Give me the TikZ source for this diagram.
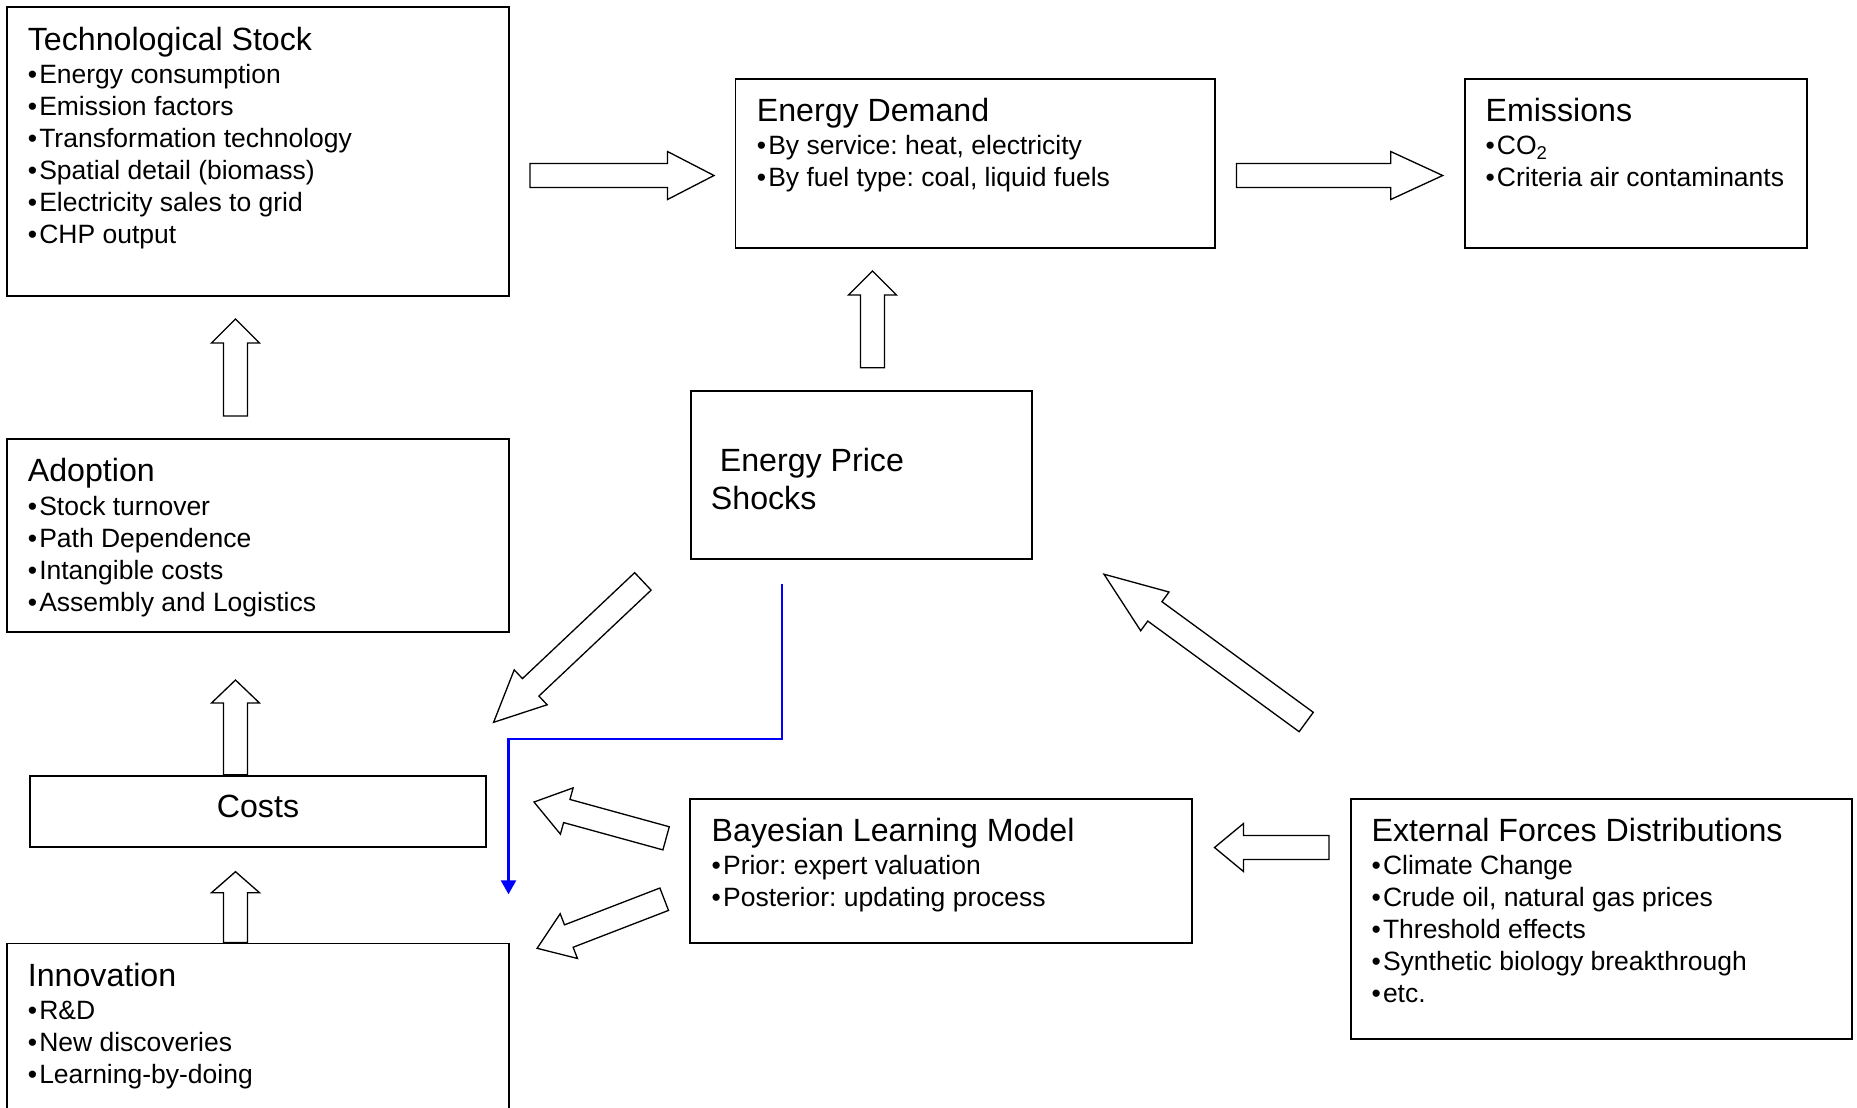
\documentclass[tikz,border=0pt]{standalone}
\usepackage{fontspec}
\setmainfont{Liberation Sans}
\usetikzlibrary{calc,arrows.meta}

\frenchspacing
\newlength{\pxu}
\setlength{\pxu}{0.02cm}
\newcommand{\ttl}[1]{{\fontsize{18.3}{18.2}\selectfont #1}}
\newcommand{\bitem}{\textbullet\kern1.2pt}
\newcommand{\fatarrow}[3]{%
  \coordinate (fa-b) at ($(#2)!#3!(#1)$);
  \draw[fatarr] ($(#1)!0.24cm!90:(#2)$) -- ($(fa-b)!0.24cm!90:(#2)$)
    -- ($(fa-b)!0.48cm!90:(#2)$) -- (#2) -- ($(fa-b)!0.48cm!-90:(#2)$)
    -- ($(fa-b)!0.24cm!-90:(#2)$) -- ($(#1)!0.24cm!-90:(#2)$) -- cycle;
}

\tikzset{
  box/.style={draw, line width=1.1pt, inner sep=0pt},
  txt/.style={anchor=north west, inner sep=0pt, align=left,
    font=\fontsize{15.08}{18.2}\selectfont},
  fatarr/.style={draw, fill=white, line width=0.75pt, line join=miter},
  link/.style={draw=blue, line width=1.3pt, -{Triangle[width=0.3cm,length=0.28cm]}}
}

\begin{document}
\begin{tikzpicture}[x=0.02cm, y=-0.02cm]
\useasboundingbox (0,0) rectangle (1857,1107);
\fill[white] (0,0) rectangle (1857,1107);

\node[box, minimum width=502\pxu, minimum height=288.7\pxu] (ts) at (258,151.7) {};
\node[box, minimum width=479.2\pxu, minimum height=168.7\pxu] (ed) at (975.1,163.4) {};
\node[box, minimum width=342\pxu, minimum height=169\pxu] (em) at (1635.7,163.5) {};
\node[box, minimum width=341.5\pxu, minimum height=168.3\pxu] (pr) at (861.3,475.2) {};
\node[box, minimum width=502\pxu, minimum height=192.4\pxu] (ad) at (258,535.5) {};
\node[box, minimum width=456.7\pxu, minimum height=71.6\pxu, text depth=10\pxu,
  font=\fontsize{18.3}{21}\selectfont] (co) at (258,811.5) {Costs};
\node[box, minimum width=502\pxu, minimum height=233\pxu] (inn) at (258,1060) {};
\node[box, minimum width=501.3\pxu, minimum height=144\pxu] (bl) at (941,871.3) {};
\node[box, minimum width=501.5\pxu, minimum height=240.1\pxu] (ex) at (1601.5,919.25) {};

\node[txt] (ts-t) at ($(ts.north west)+(21.5,20)$) {\ttl{Technological Stock}\\[0.7pt]
  \bitem Energy consumption\\ \bitem Emission factors\\ \bitem Transformation technology\\
  \bitem Spatial detail (biomass)\\ \bitem Electricity sales to grid\\ \bitem CHP output};
\node[txt] (ed-t) at ($(ed.north west)+(22,20)$) {\ttl{Energy Demand}\\[0.7pt]
  \bitem By service: heat, electricity\\ \bitem By fuel type: coal, liquid fuels};
\node[txt] (em-t) at ($(em.north west)+(21.5,20)$) {\ttl{Emissions}\\[0.7pt]
  \bitem CO\textsubscript{2}\\ \bitem Criteria air contaminants};
\node[txt, font=\fontsize{18.3}{21.4}\selectfont] (pr-t) at ($(pr.north west)+(21,58)$)
  {~Energy Price\\Shocks};
\node[txt] (ad-t) at ($(ad.north west)+(21.5,20)$) {\ttl{Adoption}\\[0.7pt]
  \bitem Stock turnover\\ \bitem Path Dependence\\ \bitem Intangible costs\\
  \bitem Assembly and Logistics};
\node[txt] (inn-t) at ($(inn.north west)+(21.5,20)$) {\ttl{Innovation}\\[0.7pt]
  \bitem R\&D\\ \bitem New discoveries\\ \bitem Learning-by-doing};
\node[txt] (bl-t) at ($(bl.north west)+(22,19.5)$) {\ttl{Bayesian Learning Model}\\[0.7pt]
  \bitem Prior: expert valuation\\ \bitem Posterior: updating process};
\node[txt] (ex-t) at ($(ex.north west)+(21.5,19.5)$) {\ttl{External Forces Distributions}\\[0.7pt]
  \bitem Climate Change\\ \bitem Crude oil, natural gas prices\\ \bitem Threshold effects\\
  \bitem Synthetic biology breakthrough\\ \bitem etc.};

\coordinate (t1) at (530,175.5);    \coordinate (h1) at (714,175.5);
\coordinate (t2) at (1236.5,175.5); \coordinate (h2) at (1442.7,175.5);
\coordinate (t3) at (872.5,367.7);  \coordinate (h3) at (872.5,271);
\coordinate (t4) at (235.5,416);    \coordinate (h4) at (235.5,319);
\coordinate (t5) at ($(co.north)+(-22.5,0)$);  \coordinate (h5) at (235.5,680);
\coordinate (t6) at ($(inn.north)+(-22.5,0)$); \coordinate (h6) at (235.5,871.7);
\coordinate (t7) at (642.9,581.4);  \coordinate (h7) at (493.6,722.3);
\coordinate (t8) at (1306.2,722);   \coordinate (h8) at (1104,574.2);
\coordinate (t9) at (666.1,838.3);  \coordinate (h9) at (534,802);
\coordinate (t10) at (664.2,899.2); \coordinate (h10) at (537.1,948.3);
\coordinate (t11) at (1329,847.5);  \coordinate (h11) at (1214.5,847.5);

\fatarrow{t1}{h1}{0.93cm}
\fatarrow{t2}{h2}{1.04cm}
\fatarrow{t3}{h3}{0.48cm}
\fatarrow{t4}{h4}{0.48cm}
\fatarrow{t5}{h5}{0.46cm}
\fatarrow{t6}{h6}{0.42cm}
\fatarrow{t7}{h7}{1.02cm}
\fatarrow{t8}{h8}{1.26cm}
\fatarrow{t9}{h9}{0.68cm}
\fatarrow{t10}{h10}{0.68cm}
\fatarrow{t11}{h11}{0.58cm}

\coordinate (l1) at (782,584);
\coordinate (l2) at (508.5,739.3);
\coordinate (l3) at (508.5,894.3);
\draw[link] (l1) |- (l2) -- (l3);
\end{tikzpicture}
\end{document}
